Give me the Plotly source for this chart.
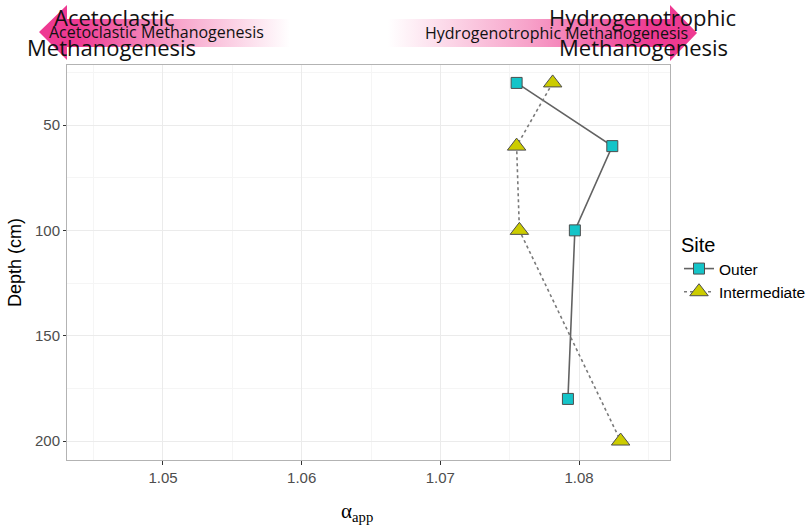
import plotly.graph_objects as go

# ---- data ----
site_names = ["Outer", "Intermediate"]
depth_outer = [30, 60, 100, 180]
alpha_outer = [1.0755, 1.0824, 1.0797, 1.0792]
depth_inter = [30, 60, 100, 200]
alpha_inter = [1.0781, 1.0755, 1.0757, 1.0830]
x_ticks = [1.05, 1.06, 1.07, 1.08]
y_ticks = [50, 100, 150, 200]
left_label = "Acetoclastic Methanogenesis"
right_label = "Hydrogenotrophic Methanogenesis"

W, H = 811, 526
L, R, T, B = 67, 670, 65, 460

fig = go.Figure()

fig.add_trace(go.Scatter(
    x=alpha_outer, y=depth_outer, mode="lines+markers", name=site_names[0],
    line=dict(color="#626262", width=1.6),
    marker=dict(symbol="square", size=11, color="#14c4c8",
                line=dict(color="#4d4d4d", width=1)),
    xaxis="x", yaxis="y"))
fig.add_trace(go.Scatter(
    x=alpha_inter, y=depth_inter, mode="lines+markers", name=site_names[1],
    line=dict(color="#7a7a7a", width=1.6, dash="dot"),
    marker=dict(symbol="triangle-up", size=16, color="#cccc00",
                line=dict(color="#4d4d4d", width=1)),
    xaxis="x", yaxis="y"))

# ---- decorative gradient arrows (pixel overlay axes) ----
pink = "#ee3a92"
fig.add_trace(go.Scatter(
    x=[39, 67, 67, 290, 290, 67, 67, 39], y=[32, 5, 19, 19, 47, 47, 60, 32],
    mode="lines", fill="toself", line=dict(width=0), showlegend=False, hoverinfo="skip",
    fillgradient=dict(type="horizontal", start=39, stop=290,
                      colorscale=[[0, pink], [0.15, pink], [0.55, "#f7a3ca"], [1, "#ffffff"]]),
    xaxis="x2", yaxis="y2"))
fig.add_trace(go.Scatter(
    x=[697, 670, 670, 388, 388, 670, 670, 697], y=[33, 5, 19, 19, 47, 47, 61, 33],
    mode="lines", fill="toself", line=dict(width=0), showlegend=False, hoverinfo="skip",
    fillgradient=dict(type="horizontal", start=388, stop=697,
                      colorscale=[[0, "#ffffff"], [0.45, "#f7a3ca"], [0.85, pink], [1, pink]]),
    xaxis="x2", yaxis="y2"))

afont = "Open Sans"
ann = []
def txt(x, y, s, size):
    ann.append(dict(x=x, y=y, xref="x2", yref="y2", text=s, showarrow=False,
                    xanchor="center", yanchor="middle",
                    font=dict(family=afont, size=size, color="#111111")))
txt(156, 32, left_label, 16)
txt(114, 17, "Acetoclastic", 22)
txt(111, 47, "Methanogenesis", 22)
txt(556.5, 33, right_label, 16)
txt(642, 17, "Hydrogenotrophic", 22)
txt(643, 47, "Methanogenesis", 22)

# x-axis title
ann.append(dict(x=357, y=512, xref="x2", yref="y2", text="α<sub>app</sub>", showarrow=False,
                xanchor="center", yanchor="middle",
                font=dict(family="Liberation Serif", size=21, color="#000000")))

fig.update_layout(
    width=W, height=H,
    margin=dict(l=0, r=0, t=0, b=0),
    paper_bgcolor="white", plot_bgcolor="rgba(0,0,0,0)",
    font=dict(family="Liberation Sans", color="#4d4d4d"),
    xaxis=dict(domain=[L / W, R / W], range=[1.04308, 1.08656],
               tickvals=x_ticks, ticktext=[f"{v:.2f}" for v in x_ticks],
               tickfont=dict(size=15, color="#4d4d4d"),
               ticks="outside", ticklen=4, tickcolor="#333333",
               showgrid=True, gridcolor="#ebebeb", gridwidth=1,
               minor=dict(dtick=0.01, tick0=1.045, showgrid=True, gridcolor="#f5f5f5", gridwidth=1),
               zeroline=False, showline=True, linecolor="#b3b3b3", mirror=True,
               anchor="y", automargin=False),
    yaxis=dict(domain=[1 - B / H, 1 - T / H], range=[209.0, 21.5],
               tickvals=y_ticks, ticktext=[str(v) for v in y_ticks],
               tickfont=dict(size=15, color="#4d4d4d"),
               ticks="outside", ticklen=3, tickcolor="#333333",
               showgrid=True, gridcolor="#ebebeb", gridwidth=1,
               minor=dict(dtick=50, tick0=25, showgrid=True, gridcolor="#f5f5f5", gridwidth=1),
               zeroline=False, showline=True, linecolor="#b3b3b3", mirror=True,
               title=dict(text="Depth (cm)", font=dict(size=18, color="#000000"), standoff=8),
               anchor="x", automargin=False),
    xaxis2=dict(domain=[0, 1], range=[0, W], visible=False, anchor="y2", fixedrange=True),
    yaxis2=dict(domain=[0, 1], range=[H, 0], visible=False, anchor="x2", fixedrange=True),
    legend=dict(x=679 / W, y=1 - 226 / H, xanchor="left", yanchor="top",
                title=dict(text="Site", font=dict(size=20, color="#000000")),
                font=dict(size=15.5, color="#000000"), bgcolor="rgba(0,0,0,0)",
                borderwidth=0, tracegroupgap=0),
    annotations=ann,
    showlegend=True,
)

fig.write_html("out.html")
